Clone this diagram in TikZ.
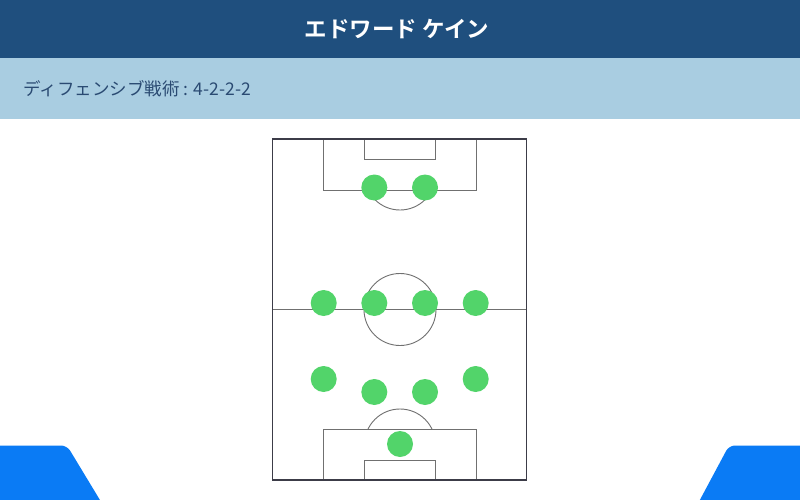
\documentclass[tikz,border=0pt]{standalone}
\usepackage{fontspec}
\newfontfamily\cjk{Noto Sans CJK JP}
\newfontfamily\cjkb{Noto Sans CJK JP Bold}
\definecolor{hdr}{HTML}{1F4F7E}
\definecolor{sub}{HTML}{A9CDE1}
\definecolor{subtxt}{HTML}{2A4A72}
\definecolor{pl}{HTML}{52D46A}
\definecolor{blu}{HTML}{0A7BF5}
\definecolor{lin}{HTML}{707070}
\definecolor{brd}{HTML}{3C3C48}
\tikzset{
  player/.style={circle,fill=pl,draw=none,minimum size=26pt,inner sep=0pt},
  pline/.style={draw=lin,line width=0.9pt},
}
\begin{document}
\begin{tikzpicture}[x=1pt,y=-1pt]
\useasboundingbox (0,0) rectangle (800,500);
\fill[white] (0,0) rectangle (800,500);
% header
\fill[hdr] (0,0) rectangle (800,58);
\node[text=white,font=\cjkb\fontsize{22.5}{26}\selectfont] (title) at (397,29) {エドワード ケイン};
\fill[sub] (0,58) rectangle (800,119);
\node[anchor=west,text=subtxt,font=\cjk\fontsize{17.5}{21}\selectfont] (subtitle) at (20,89) {ディフェンシブ戦術 : 4-2-2-2};
% pitch
\draw[pline] (272,309.5) -- (527,309.5);
\draw[pline] (400,309.5) circle (36);
\draw[pline] (323.5,139) rectangle (476,190.5);
\draw[pline] (364.5,139) rectangle (435.5,159.5);
\draw[pline] (323.5,480) rectangle (476,429);
\draw[pline] (364.5,480) rectangle (435.5,460);
\begin{scope}
\clip (300,190.5) rectangle (500,230);
\draw[pline] (400,174.5) circle (35.5);
\end{scope}
\begin{scope}
\clip (300,429) rectangle (500,380);
\draw[pline] (400,444.5) circle (35.5);
\end{scope}
\draw[draw=brd,line width=1.5pt] (272.5,139) rectangle (526.5,480);
% players
\node[player] (p1) at (374.3,187.5) {};
\node[player] (p2) at (425,187.5) {};
\node[player] (p3) at (323.7,303) {};
\node[player] (p4) at (374.3,303) {};
\node[player] (p5) at (425,303) {};
\node[player] (p6) at (475.7,303) {};
\node[player] (p7) at (323.7,379) {};
\node[player] (p8) at (374.3,392) {};
\node[player] (p9) at (425,392) {};
\node[player] (p10) at (475.7,379) {};
\node[player] (gk) at (400,444) {};
% bottom shapes
\fill[blu,rounded corners=6pt] (-10,510) -- (-10,445.5) -- (67,445.5) -- (106,510) -- cycle;
\fill[blu,rounded corners=6pt] (810,510) -- (810,445.5) -- (729,445.5) -- (694.5,510) -- cycle;
\end{tikzpicture}
\end{document}
